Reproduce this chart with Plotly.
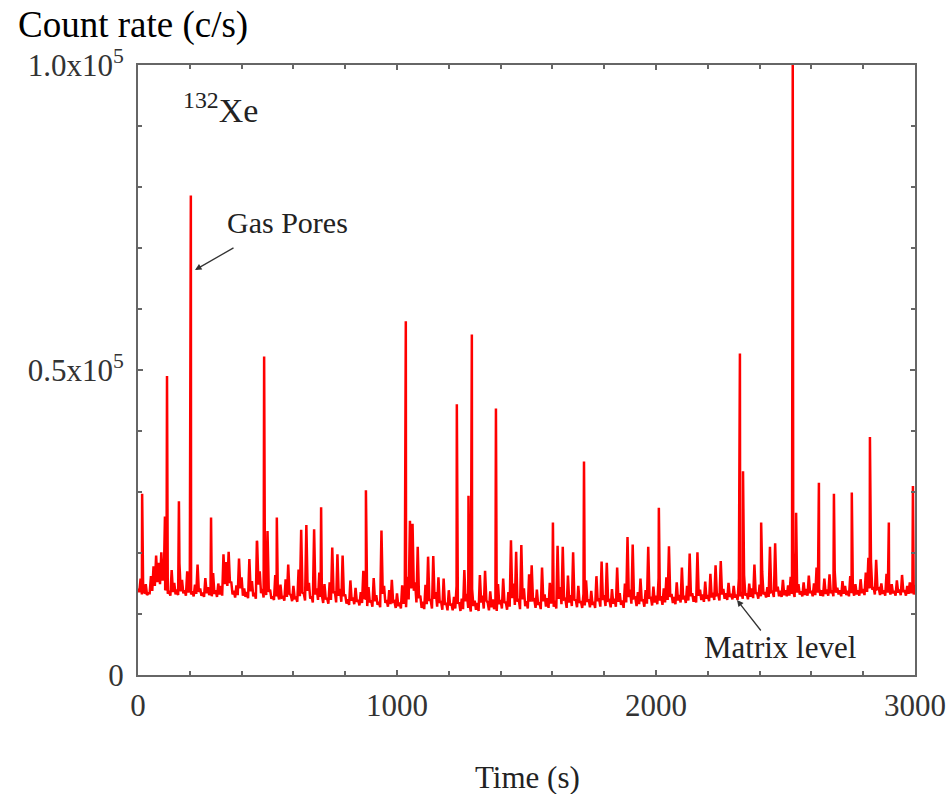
import plotly.graph_objects as go

# ---- data -------------------------------------------------------------
# matrix count rate sampled every 10 s (0..3000 s), thousands of c/s
base_time = list(range(0, 3001, 10))
base_kcps = [
    14.2, 15.8, 13.6, 14.9, 13.4, 16.2, 17.8, 19.6, 18.4, 20.1,
    16.5, 14.3, 13.8, 17.2, 15.1, 14.0, 18.3, 15.6, 13.9, 17.0,
    15.4, 13.7, 14.8, 18.1, 14.2, 13.5, 15.9, 14.4, 13.8, 16.7,
    13.9, 15.0, 14.6, 19.8, 18.5, 20.2, 15.3, 13.8, 14.7, 19.1,
    16.0, 14.2, 13.6, 19.0, 15.4, 13.5, 21.8, 17.0, 14.1, 16.3,
    23.6, 14.0, 12.9, 16.4, 13.3, 14.8, 12.8, 15.7, 18.1, 13.1,
    14.6, 12.7, 17.3, 23.8, 13.4, 24.6, 15.1, 12.9, 23.9, 14.2,
    16.8, 13.0, 14.9, 12.6, 15.2, 20.9, 13.7, 19.8, 14.1, 19.6,
    13.2, 12.4, 15.5, 12.7, 14.3, 12.3, 13.6, 17.1, 12.5, 14.4,
    12.2, 15.9, 13.1, 12.0, 23.7, 14.6, 12.3, 13.9, 15.6, 12.1,
    13.4, 11.9, 14.7, 12.6, 16.1, 25.3, 24.8, 15.2, 21.0, 13.0,
    12.0, 14.8, 19.4, 12.3, 19.5, 13.6, 16.0, 12.1, 15.8, 11.8,
    13.9, 11.7, 12.8, 14.6, 11.9, 12.5, 17.2, 13.3, 11.6, 14.1,
    12.2, 11.8, 16.4, 13.0, 17.1, 11.9, 13.7, 12.4, 11.7, 14.9,
    12.3, 15.8, 12.0, 13.6, 22.1, 15.0, 20.2, 12.5, 21.3, 14.2,
    12.1, 16.5, 18.0, 12.4, 14.0, 11.9, 17.6, 13.2, 12.6, 15.1,
    13.0, 12.2, 21.2, 14.4, 21.0, 12.5, 16.3, 13.1, 20.1, 12.4,
    14.6, 12.1, 13.3, 15.5, 12.4, 13.8, 12.0, 16.2, 12.6, 18.6,
    13.1, 18.4, 12.3, 14.1, 12.5, 17.6, 13.4, 12.2, 15.0, 22.6,
    14.0, 21.4, 12.7, 13.6, 15.8, 12.4, 13.9, 21.0, 12.8, 14.5,
    13.0, 15.9, 12.9, 14.2, 16.0, 21.1, 13.3, 12.8, 15.2, 13.1,
    17.6, 13.0, 14.6, 19.9, 13.4, 12.9, 20.1, 14.0, 13.2, 15.3,
    13.1, 16.6, 13.5, 18.0, 13.2, 18.7, 14.1, 13.4, 15.1, 13.3,
    14.6, 13.2, 15.8, 13.6, 16.4, 13.4, 15.0, 14.2, 18.1, 13.5,
    14.8, 16.9, 13.6, 14.4, 21.0, 13.7, 21.6, 14.5, 13.8, 15.6,
    13.9, 14.7, 16.1, 13.8, 20.4, 14.9, 13.7, 15.2, 14.1, 16.3,
    13.8, 15.0, 17.6, 14.2, 13.9, 15.8, 14.0, 16.5, 13.9, 17.0,
    14.3, 13.9, 15.4, 14.6, 13.8, 16.2, 14.0, 14.9, 13.9, 15.7,
    14.1, 16.8, 19.2, 18.6, 14.4, 18.9, 14.2, 15.0, 13.9, 16.6,
    14.2, 14.9, 13.8, 15.5, 14.0, 16.4, 13.9, 14.6, 15.2, 14.1,
    14.8,
]

# in-between samples at 5, 15, ..., 2995 s (lower edge of the noise band), thousands of c/s
mid_time = list(range(5, 3000, 10))
mid_kcps = [
    13.6, 13.2, 13.5, 13.1, 13.4, 13.8, 14.6, 15.2, 14.9, 15.5,
    13.9, 13.3, 13.0, 13.6, 13.2, 13.1, 13.7, 13.4, 13.0, 13.5,
    13.2, 12.9, 13.3, 13.6, 13.0, 12.8, 13.4, 13.1, 12.9, 13.3,
    12.8, 13.2, 13.0, 14.9, 14.6, 15.1, 13.2, 12.7, 13.1, 14.2,
    13.0, 12.8, 12.6, 13.7, 12.9, 12.5, 14.8, 13.4, 12.7, 13.1,
    13.6, 12.5, 12.3, 12.9, 12.4, 12.7, 12.2, 12.8, 13.3, 12.1,
    12.6, 12.0, 12.9, 13.5, 12.2, 13.8, 12.5, 11.9, 13.2, 12.3,
    12.8, 11.8, 12.4, 11.7, 12.3, 13.4, 11.9, 13.0, 12.0, 12.9,
    11.7, 11.5, 12.2, 11.6, 12.0, 11.4, 11.8, 12.6, 11.3, 11.9,
    11.2, 12.1, 11.5, 11.1, 13.3, 11.8, 11.2, 11.6, 12.0, 11.0,
    11.3, 10.9, 11.7, 11.1, 12.4, 14.2, 13.8, 11.9, 12.6, 11.0,
    10.8, 11.6, 12.3, 10.9, 12.5, 11.2, 11.8, 10.7, 11.5, 10.6,
    11.4, 10.6, 10.9, 11.7, 10.5, 10.8, 12.1, 11.0, 10.4, 11.3,
    10.7, 10.5, 11.9, 10.9, 12.2, 10.6, 11.1, 10.8, 10.5, 11.6,
    10.9, 11.8, 10.7, 11.2, 12.6, 11.5, 12.0, 10.8, 12.4, 11.3,
    10.9, 12.0, 12.3, 11.0, 11.5, 10.8, 12.1, 11.2, 11.0, 11.7,
    11.2, 10.9, 12.5, 11.6, 12.4, 11.0, 11.9, 11.3, 12.2, 11.1,
    11.8, 11.0, 11.4, 12.0, 11.1, 11.5, 11.0, 12.1, 11.2, 12.3,
    11.3, 12.2, 11.1, 11.7, 11.2, 12.0, 11.5, 11.0, 11.9, 12.8,
    11.7, 12.6, 11.3, 11.6, 12.1, 11.2, 11.7, 12.5, 11.4, 11.9,
    11.6, 12.2, 11.5, 11.9, 12.3, 12.8, 11.8, 11.6, 12.2, 11.9,
    12.4, 11.8, 12.2, 12.9, 12.0, 11.9, 13.0, 12.3, 12.0, 12.5,
    12.1, 12.7, 12.3, 13.1, 12.2, 13.2, 12.5, 12.3, 12.8, 12.4,
    12.7, 12.3, 12.9, 12.5, 13.0, 12.4, 12.8, 12.6, 13.3, 12.5,
    12.9, 13.2, 12.7, 12.8, 13.6, 12.8, 13.7, 12.9, 12.8, 13.1,
    12.9, 13.0, 13.3, 12.8, 13.5, 13.2, 12.9, 13.1, 13.0, 13.4,
    12.9, 13.1, 13.5, 13.0, 12.9, 13.3, 13.0, 13.4, 12.9, 13.5,
    13.2, 12.9, 13.3, 13.1, 12.9, 13.4, 13.0, 13.2, 13.0, 13.4,
    13.1, 13.6, 14.2, 14.0, 13.2, 14.1, 13.1, 13.3, 13.0, 13.5,
    13.2, 13.4, 13.0, 13.5, 13.1, 13.6, 13.0, 13.3, 13.4, 13.2,
]

# gas-pore bursts (time in s, count rate in thousands of c/s)
spike_time = [16, 104, 112, 158, 204, 282, 459, 487, 536, 707, 880, 1034,
              1231, 1276, 1289, 1382, 1602, 1722, 2011, 2324, 2336, 2406,
              2528, 2541, 2629, 2687, 2756, 2826, 2899, 2992]
spike_kcps = [29.7, 26.0, 49.0, 28.5, 78.6, 25.8, 22.0, 52.2, 25.8, 27.5, 30.3, 58.0,
              44.4, 29.4, 55.8, 43.7, 25.0, 35.0, 27.4, 52.7, 33.4, 25.0,
              100.5, 26.6, 31.5, 29.7, 29.9, 39.0, 25.0, 31.0]

x_tick_vals = [0, 1000, 2000, 3000]
x_tick_text = ["0", "1000", "2000", "3000"]
y_tick_vals = [0, 50000, 100000]
y_tick_text = ["0", "0.5x10<sup>5</sup>", "1.0x10<sup>5</sup>"]

# ---- merge all samples into one time series -----------------------------
pairs = sorted(list(zip(base_time, base_kcps)) + list(zip(mid_time, mid_kcps))
               + list(zip(spike_time, spike_kcps)))
time_s = [p[0] for p in pairs]
counts = [p[1] * 1000 for p in pairs]

FONT = "Liberation Serif"
AX = "#666666"

fig = go.Figure()
fig.add_trace(go.Scatter(x=time_s, y=counts, mode="lines",
                         line=dict(color="#ff0000", width=2.5),
                         showlegend=False, hoverinfo="skip"))

axis_common = dict(
    showline=True, linecolor=AX, linewidth=2, mirror="allticks",
    ticks="inside", ticklen=5, tickwidth=1.5, tickcolor=AX,
    showgrid=False, zeroline=False, automargin=False,
    tickfont=dict(family=FONT, size=31, color="#333333"),
)

fig.update_xaxes(range=[0, 3000], tickvals=x_tick_vals, ticktext=x_tick_text,
                 minor=dict(ticks="inside", dtick=200, ticklen=4, tickcolor=AX, tickwidth=1.5),
                 ticklabelstandoff=2, **axis_common)
fig.update_yaxes(range=[0, 100000], tickvals=y_tick_vals, ticktext=y_tick_text,
                 minor=dict(ticks="inside", dtick=10000, ticklen=4, tickcolor=AX, tickwidth=1.5),
                 ticklabelstandoff=6, **axis_common)

L, R, T, B = 138, 33, 65, 119
W, H = 948, 794
pw, ph = W - L - R, H - T - B


def px(xp):
    return (xp - L) / pw


def py(yp):
    return (H - B - yp) / ph


annotations = [
    dict(text="Count rate (c/s)", xref="paper", yref="paper", x=px(16), y=py(25),
         xanchor="left", yanchor="middle", showarrow=False,
         font=dict(family=FONT, size=37, color="#000000")),
    dict(text="Time (s)", xref="paper", yref="paper", x=px(527), y=py(777),
         xanchor="center", yanchor="middle", showarrow=False,
         font=dict(family=FONT, size=31, color="#222222")),
    dict(text="<sup>132</sup>Xe", xref="paper", yref="paper", x=px(181), y=py(108),
         xanchor="left", yanchor="middle", showarrow=False,
         font=dict(family=FONT, size=34, color="#222222")),
    dict(text="Gas Pores", xref="paper", yref="paper", x=px(287), y=py(222),
         xanchor="center", yanchor="middle", showarrow=False,
         font=dict(family=FONT, size=30, color="#222222")),
    dict(text="Matrix level", xref="paper", yref="paper", x=px(780), y=py(647),
         xanchor="center", yanchor="middle", showarrow=False,
         font=dict(family=FONT, size=31, color="#222222")),
    dict(text="", xref="paper", yref="paper", x=px(195), y=py(270),
         axref="pixel", ayref="pixel", ax=40, ay=-23, showarrow=True,
         arrowhead=2, arrowsize=1, arrowwidth=1.3, arrowcolor="#333333"),
    dict(text="", xref="paper", yref="paper", x=px(737), y=py(600),
         axref="pixel", ayref="pixel", ax=25, ay=32, showarrow=True,
         arrowhead=2, arrowsize=1, arrowwidth=1.3, arrowcolor="#333333"),
]

fig.update_layout(
    width=W, height=H,
    margin=dict(l=L, r=R, t=T, b=B),
    paper_bgcolor="white", plot_bgcolor="white",
    annotations=annotations,
    font=dict(family=FONT),
)

fig.write_html("out.html")
